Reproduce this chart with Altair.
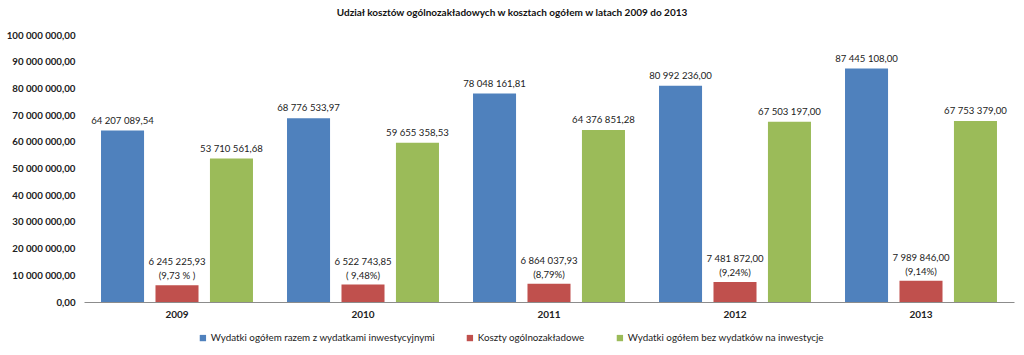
import altair as alt
import pandas as pd

years = ["2009", "2010", "2011", "2012", "2013"]
series = [
    "Wydatki ogółem razem z wydatkami inwestycyjnymi",
    "Koszty ogólnozakładowe",
    "Wydatki ogółem bez wydatków na inwestycje",
]
colors = ["#4F81BD", "#C0504D", "#9BBB59"]
total = [64207089.54, 68776533.97, 78048161.81, 80992236.00, 87445108.00]
overhead = [6245225.93, 6522743.85, 6864037.93, 7481872.00, 7989846.00]
no_invest = [53710561.68, 59655358.53, 64376851.28, 67503197.00, 67753379.00]
pct = ["(9,73 % )", "( 9,48%)", "(8,79%)", "(9,24%)", "(9,14%)"]


def fmt(v):
    return f"{v:,.2f}".replace(",", " ").replace(".", ",")


rows = []
for i, y in enumerate(years):
    rows.append({"year": y, "series": series[0], "value": total[i], "label": fmt(total[i]), "pct": ""})
    rows.append({"year": y, "series": series[1], "value": overhead[i], "label": fmt(overhead[i]), "pct": pct[i]})
    rows.append({"year": y, "series": series[2], "value": no_invest[i], "label": fmt(no_invest[i]), "pct": ""})
df = pd.DataFrame(rows)

FONT = "Lato"

x = alt.X("year:N", title=None, sort=years,
          scale=alt.Scale(paddingInner=0.183, paddingOuter=0.0915),
          axis=alt.Axis(labelAngle=0, ticks=False, domainColor="#8c8c8c",
                        labelFont=FONT, labelFontSize=10, labelFontWeight="bold",
                        labelColor="#222222", labelPadding=7))
xo = alt.XOffset("series:N", sort=series, scale=alt.Scale(paddingInner=0.21, paddingOuter=0))
y = alt.Y("value:Q", title=None,
          scale=alt.Scale(domain=[0, 100000000], nice=False),
          axis=alt.Axis(values=list(range(0, 100000001, 10000000)), format=",.2f",
                        grid=False, domain=False, ticks=False, labelFont=FONT,
                        labelFontSize=9.7, labelFontWeight="bold", labelColor="#222222",
                        labelPadding=9))

base = alt.Chart(df)

bars = base.mark_bar().encode(
    x=x, xOffset=xo, y=y,
    color=alt.Color("series:N", sort=series,
                    scale=alt.Scale(domain=series, range=colors),
                    legend=alt.Legend(title=None, orient="none", direction="horizontal",
                                      legendX=114, legendY=298, symbolType="square",
                                      symbolSize=40, symbolStrokeWidth=0, labelFont=FONT,
                                      labelFontSize=9.8, labelColor="#222222",
                                      columnPadding=30, labelLimit=400, labelOffset=3)),
)

text_style = dict(baseline="bottom", font=FONT, fontSize=9.6, color="#222222")

top_labels = base.transform_filter(alt.datum.pct == "").mark_text(dy=-5, **text_style).encode(
    x=x, xOffset=xo, y=y, text="label:N")
red_value = base.transform_filter(alt.datum.pct != "").mark_text(dy=-18, **text_style).encode(
    x=x, xOffset=xo, y=y, text="label:N")
red_pct = base.transform_filter(alt.datum.pct != "").mark_text(dy=-4, **text_style).encode(
    x=x, xOffset=xo, y=y, text="pct:N")

chart = alt.layer(bars, top_labels, red_value, red_pct).properties(
    width=930, height=267,
    title=alt.Title("Udział kosztów ogólnozakładowych w kosztach ogółem w latach 2009 do 2013",
                    font=FONT, fontSize=10, fontWeight="bold", color="#111111",
                    anchor="middle", dx=-37, offset=12),
    autosize=alt.AutoSizeParams(type="none"),
    padding={"left": 84, "top": 35, "right": 10, "bottom": 53},
).configure_view(stroke=None)

chart.save("out.html", embed_options={
    "renderer": "svg", "actions": False,
    "formatLocale": {"decimal": ",", "thousands": " ", "grouping": [3], "currency": ["", " zł"]},
})
